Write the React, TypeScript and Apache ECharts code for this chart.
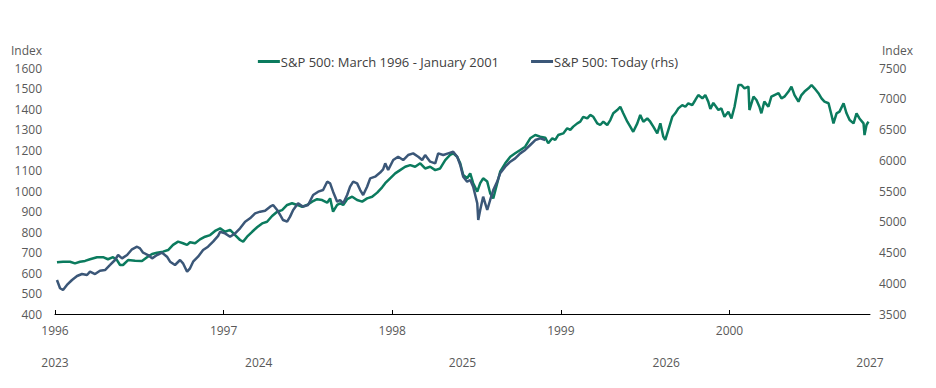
import React, { useEffect, useRef } from "react";
import * as echarts from "echarts";

// Months since March 1996 (green) / aligned months (blue)
const greenMonths = [
  0.14, 0.57, 1.07, 1.42, 1.78, 2.14, 2.49, 2.99, 3.42, 3.77, 4.13, 4.41, 4.63, 4.84, 5.2, 5.7, 6.19, 6.55, 6.91, 7.26,
  7.69, 8.05, 8.4, 8.76, 9.11, 9.4, 9.61, 9.97, 10.32, 10.68, 11.04, 11.39, 11.61, 11.75, 12.1, 12.46, 12.82, 13.17, 13.39, 13.67,
  14.03, 14.38, 14.74, 15.09, 15.45, 15.81, 16.16, 16.52, 16.87, 17.23, 17.59, 17.94, 18.3, 18.65, 19.01, 19.37, 19.58, 19.79, 20.08, 20.29,
  20.51, 20.79, 21.15, 21.5, 21.86, 22.21, 22.57, 22.93, 23.28, 23.5, 23.85, 24.21, 24.56, 24.92, 25.28, 25.63, 25.99, 26.34, 26.7, 27.06,
  27.41, 27.77, 28.12, 28.34, 28.62, 28.84, 29.05, 29.33, 29.55, 29.76, 30.05, 30.26, 30.47, 30.76, 30.97, 31.19, 31.47, 31.68, 32.04, 32.4,
  32.75, 33.11, 33.46, 33.82, 34.18, 34.53, 34.89, 35.1, 35.39, 35.6, 35.81, 36.17, 36.45, 36.67, 36.88, 37.17, 37.38, 37.59, 37.88, 38.09,
  38.31, 38.59, 38.8, 39.02, 39.3, 39.52, 39.73, 40.01, 40.23, 40.44, 40.73, 40.94, 41.15, 41.44, 41.65, 41.87, 42.15, 42.36, 42.58, 42.86,
  43.08, 43.29, 43.43, 43.65, 43.93, 44.14, 44.36, 44.64, 44.86, 45.07, 45.35, 45.57, 45.78, 46.07, 46.28, 46.49, 46.64, 46.85, 47.21, 47.42,
  47.64, 47.92, 48.14, 48.36, 48.64, 48.85, 49.07, 49.35, 49.42, 49.71, 49.92, 50.13, 50.27, 50.48, 50.77, 50.98, 51.2, 51.49, 51.7, 51.91,
  52.2, 52.41, 52.63, 52.91, 53.12, 53.34, 53.62, 53.84, 54.05, 54.33, 54.55, 54.76, 55.05, 55.26, 55.4, 55.62, 55.83, 56.12, 56.33, 56.55,
  56.83, 57.04, 57.25, 57.54, 57.61, 57.75, 57.89,
];
const greenValues = [
  652, 655, 655, 647, 655, 659, 667, 677, 677, 667, 677, 663, 639, 639, 663, 660, 659, 677, 693, 699,
  704, 712, 737, 753, 745, 737, 750, 745, 764, 777, 785, 805, 813, 818, 801, 810, 785, 761, 753, 777,
  801, 823, 842, 850, 878, 899, 907, 932, 940, 932, 923, 932, 948, 960, 956, 943, 964, 899, 932, 940,
  932, 960, 972, 956, 948, 964, 972, 992, 1018, 1038, 1062, 1086, 1102, 1118, 1126, 1118, 1135, 1110, 1118, 1102,
  1110, 1151, 1176, 1184, 1167, 1135, 1078, 1062, 1086, 1038, 997, 1038, 1062, 1046, 989, 964, 1038, 1094, 1135, 1167,
  1184, 1200, 1216, 1257, 1273, 1265, 1260, 1233, 1257, 1249, 1273, 1281, 1306, 1298, 1314, 1330, 1338, 1362, 1354, 1371,
  1362, 1330, 1322, 1338, 1322, 1346, 1379, 1395, 1411, 1379, 1338, 1314, 1289, 1330, 1371, 1338, 1354, 1338, 1314, 1281,
  1330, 1265, 1249, 1298, 1362, 1379, 1403, 1419, 1411, 1428, 1419, 1444, 1468, 1452, 1468, 1436, 1400, 1430, 1395, 1403,
  1362, 1387, 1354, 1411, 1517, 1517, 1501, 1509, 1395, 1460, 1444, 1411, 1379, 1436, 1411, 1460, 1468, 1477, 1452, 1460,
  1485, 1509, 1468, 1436, 1468, 1485, 1501, 1517, 1501, 1477, 1452, 1436, 1428, 1371, 1330, 1379, 1387, 1428, 1379, 1346,
  1330, 1379, 1354, 1330, 1273, 1322, 1338,
];

const blueMonths = [
  0.14, 0.36, 0.57, 0.85, 1.21, 1.57, 1.92, 2.28, 2.49, 2.85, 3.2, 3.56, 3.92, 4.27, 4.49, 4.77, 5.13, 5.48, 5.84, 6.05,
  6.27, 6.62, 6.91, 7.26, 7.62, 7.97, 8.19, 8.54, 8.9, 9.11, 9.4, 9.61, 9.83, 10.18, 10.54, 10.89, 11.25, 11.61, 11.75, 12.1,
  12.46, 12.82, 13.17, 13.53, 13.88, 14.24, 14.6, 14.95, 15.31, 15.52, 15.81, 16.02, 16.23, 16.52, 16.73, 16.95, 17.3, 17.66, 18.01, 18.37,
  18.73, 19.08, 19.37, 19.58, 19.79, 20.08, 20.29, 20.51, 20.79, 21.0, 21.22, 21.5, 21.72, 21.93, 22.21, 22.43, 22.78, 23.14, 23.35, 23.5,
  23.71, 24.07, 24.42, 24.78, 25.13, 25.49, 25.85, 26.13, 26.34, 26.7, 27.06, 27.27, 27.63, 27.98, 28.34, 28.62, 28.84, 29.05, 29.33, 29.55,
  29.76, 30.05, 30.12, 30.26, 30.47, 30.76, 30.97, 31.19, 31.47, 31.68, 32.04, 32.4, 32.75, 33.11, 33.46, 33.82, 34.18, 34.53, 34.89,
];
const blueValues = [
  4053, 3918, 3890, 3972, 4053, 4118, 4150, 4134, 4188, 4150, 4204, 4215, 4297, 4378, 4459, 4405, 4459, 4552, 4594, 4567,
  4497, 4459, 4405, 4459, 4497, 4432, 4351, 4297, 4378, 4324, 4188, 4243, 4351, 4432, 4540, 4594, 4676, 4770, 4838, 4811,
  4757, 4811, 4893, 5001, 5056, 5137, 5164, 5180, 5245, 5272, 5191, 5110, 5028, 5001, 5083, 5191, 5300, 5245, 5272, 5435,
  5489, 5516, 5651, 5624, 5489, 5326, 5354, 5300, 5435, 5570, 5651, 5624, 5516, 5435, 5570, 5706, 5733, 5800, 5852, 5950,
  5841, 6004, 6058, 6004, 6085, 6112, 6058, 6004, 6085, 5977, 5950, 6112, 6085, 6112, 6139, 6058, 5923, 5733, 5652, 5679,
  5570, 5300, 5028, 5191, 5408, 5191, 5354, 5516, 5652, 5787, 5896, 5977, 6031, 6112, 6167, 6248, 6329, 6356, 6329,
];

const seriesNames = ["S&P 500: March 1996 - January 2001", "S&P 500: Today (rhs)"];
const topYearStart = 1996;
const bottomYears = [2023, 2024, 2025, 2026, 2027];

const GREEN = "#0b7b5e";
const BLUE = "#3b5778";
const FONT = "'Open Sans', 'Noto Sans', sans-serif";
const LABEL = "#595959";

export default function App() {
  const ref = useRef<HTMLDivElement>(null);
  useEffect(() => {
    if (!ref.current) return;
    const chart = echarts.init(ref.current, undefined, { renderer: "svg" });
    const greenData = greenMonths.map((m, i) => [m, greenValues[i]]);
    const blueData = blueMonths.map((m, i) => [m, blueValues[i]]);
    const plain = (v: number) => String(v);
    chart.setOption({
      animation: false,
      textStyle: { fontFamily: FONT },
      legend: {
        top: 50,
        left: "center",
        itemGap: 32,
        itemWidth: 22,
        itemHeight: 3,
        icon: "rect",
        textStyle: { fontSize: 13, color: "#404040", fontFamily: FONT, padding: [0, 0, 0, -4] },
        data: seriesNames,
      },
      grid: { left: 55, right: 66, top: 68, bottom: 74, containLabel: false },
      xAxis: [
        {
          type: "value",
          min: 0,
          max: 58,
          interval: 12,
          position: "bottom",
          axisLine: { show: true, lineStyle: { color: "#000", width: 1 } },
          axisTick: { show: true, inside: true, length: 4, lineStyle: { color: "#000" } },
          splitLine: { show: false },
          axisLabel: {
            color: LABEL,
            fontSize: 12,
            margin: 10,
            showMaxLabel: false,
            formatter: (v: number) => String(topYearStart + Math.round(v / 12)),
          },
        },
        {
          type: "value",
          min: bottomYears[0],
          max: bottomYears[bottomYears.length - 1],
          interval: 1,
          position: "bottom",
          offset: 32,
          axisLine: { show: false },
          axisTick: { show: false },
          splitLine: { show: false },
          axisLabel: { color: LABEL, fontSize: 12, margin: 10, formatter: plain },
        },
      ],
      yAxis: [
        {
          type: "value",
          min: 400,
          max: 1600,
          interval: 100,
          name: "Index",
          nameLocation: "end",
          nameGap: 12,
          nameTextStyle: { color: LABEL, fontSize: 12, align: "right", padding: [0, 13, 0, 0] },
          axisLine: { show: false },
          axisTick: { show: false },
          splitLine: { show: false },
          axisLabel: { color: LABEL, fontSize: 12, margin: 13, formatter: plain },
        },
        {
          type: "value",
          min: 3500,
          max: 7500,
          interval: 500,
          position: "right",
          name: "Index",
          nameLocation: "end",
          nameGap: 12,
          nameTextStyle: { color: LABEL, fontSize: 12, align: "left", padding: [0, 0, 0, 12] },
          axisLine: { show: false },
          axisTick: { show: false },
          splitLine: { show: false },
          axisLabel: { color: LABEL, fontSize: 12, margin: 9, formatter: plain },
        },
      ],
      series: [
        {
          name: seriesNames[0],
          type: "line",
          xAxisIndex: 0,
          yAxisIndex: 0,
          data: greenData,
          showSymbol: false,
          lineStyle: { color: GREEN, width: 2.5 },
          itemStyle: { color: GREEN },
        },
        {
          name: seriesNames[1],
          type: "line",
          xAxisIndex: 0,
          yAxisIndex: 1,
          data: blueData,
          showSymbol: false,
          lineStyle: { color: BLUE, width: 2.5 },
          itemStyle: { color: BLUE },
        },
      ],
    });
    return () => chart.dispose();
  }, []);
  return <div ref={ref} style={{ position: "fixed", left: 0, top: 0, width: 936, height: 388, background: "#fff" }} />;
}
